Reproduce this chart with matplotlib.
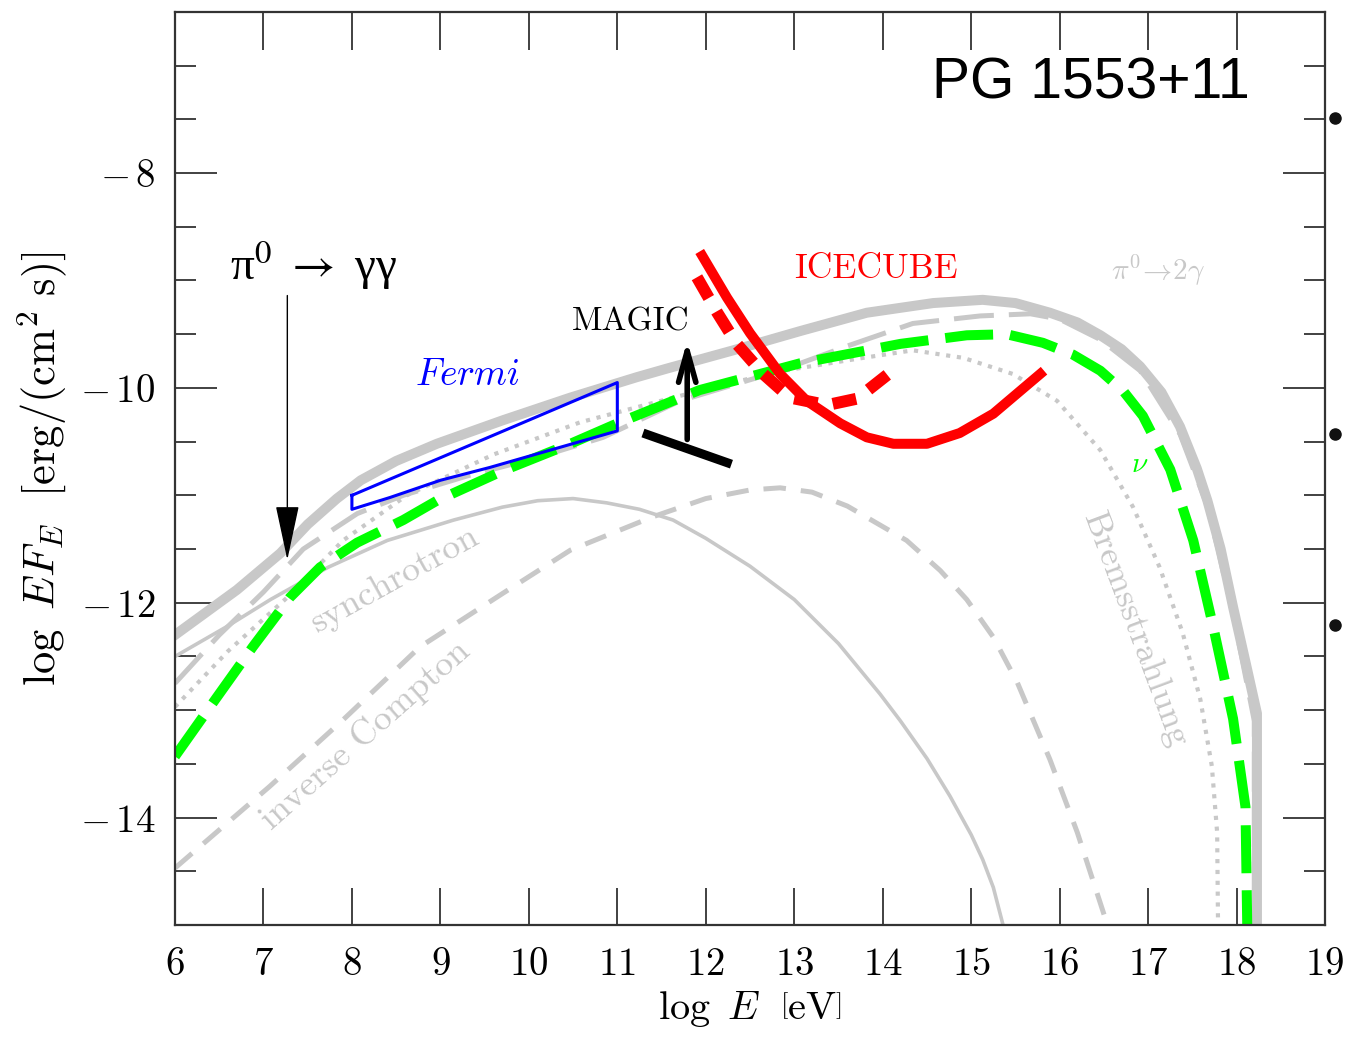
import matplotlib
matplotlib.use("Agg")
import matplotlib.pyplot as plt
from matplotlib.ticker import MultipleLocator, FuncFormatter

plt.rcParams['font.family'] = 'serif'
plt.rcParams['font.serif'] = ['cmr10', 'DejaVu Serif']
plt.rcParams['mathtext.fontset'] = 'cm'
plt.rcParams['axes.unicode_minus'] = False

# model components, log E [eV] vs log E F_E
total_x = [6.0, 6.7, 7.19, 7.5, 7.83, 8.1, 8.5, 8.96, 9.71, 10.47, 11.22, 11.56, 12.31, 13.07, 13.82,
           14.57, 15.13, 15.5, 15.89, 16.2, 16.46, 16.7, 16.91, 17.15, 17.36, 17.55, 17.67, 17.82,
           17.96, 18.1, 18.23, 18.23]
total_y = [-12.3, -11.88, -11.54, -11.27, -11.03, -10.86, -10.68, -10.52, -10.3, -10.09, -9.9, -9.82, -9.65,
           -9.47, -9.3, -9.21, -9.18, -9.21, -9.3, -9.39, -9.51, -9.64, -9.8, -10.04, -10.36, -10.75,
           -11.05, -11.5, -12.04, -12.55, -13.03, -15.0]

pi0_x = [6.0, 6.5, 7.0, 7.45, 8.06, 8.58, 9.3, 10.09, 10.84, 11.71, 12.84, 13.6, 14.34, 15.1,
         15.67, 16.0, 16.46, 16.91, 17.36, 17.67, 17.96, 18.2, 18.2]
pi0_y = [-12.75, -12.3, -11.9, -11.5, -11.17, -11.0, -10.82, -10.65, -10.46, -10.12, -9.84, -9.61, -9.4, -9.33,
         -9.31, -9.36, -9.55, -9.84, -10.43, -11.1, -12.1, -13.1, -15.0]

brems_x = [6.0, 6.6, 7.27, 7.9, 8.62, 9.6, 10.58, 11.63, 12.8, 13.78, 14.34, 14.91, 15.47, 15.97, 16.46,
           16.83, 17.13, 17.39, 17.59, 17.72, 17.78, 17.79]
brems_y = [-12.97, -12.45, -11.95, -11.42, -11.0, -10.62, -10.32, -10.09, -9.85, -9.72, -9.65, -9.72, -9.87,
           -10.12, -10.58, -11.11, -11.67, -12.28, -12.9, -13.52, -14.14, -15.0]

sync_x = [6.0, 6.59, 7.08, 7.73, 8.4, 9.15, 9.7, 10.1, 10.5, 10.88, 11.25, 11.63, 12.0, 12.5, 13.0,
          13.5, 13.97, 14.2, 14.5, 14.76, 15.0, 15.13, 15.25, 15.36]
sync_y = [-12.5, -12.22, -11.97, -11.67, -11.42, -11.23, -11.11, -11.05, -11.03, -11.07, -11.13, -11.23,
          -11.4, -11.66, -11.97, -12.38, -12.85, -13.1, -13.45, -13.8, -14.16, -14.39, -14.65, -15.0]

ic_x = [6.0, 7.07, 7.9, 8.77, 9.71, 10.47, 11.4, 12.0, 12.5, 12.84, 13.2, 13.6, 14.27, 14.65, 14.95,
        15.25, 15.52, 15.89, 16.2, 16.54]
ic_y = [-14.47, -13.71, -13.09, -12.41, -11.91, -11.51, -11.2, -11.03, -10.95, -10.93, -10.97, -11.1,
        -11.42, -11.7, -11.97, -12.32, -12.74, -13.46, -14.14, -15.0]

nu_x = [6.0, 6.43, 6.88, 7.3, 7.64, 8.06, 8.58, 8.96, 9.71, 10.47, 11.0, 11.93, 13.07, 14.2, 14.95,
        15.4, 15.81, 16.15, 16.46, 16.72, 16.94, 17.25, 17.51, 17.74, 17.96, 18.1, 18.12]
nu_y = [-13.43, -12.93, -12.41, -11.95, -11.67, -11.44, -11.23, -11.05, -10.77, -10.52, -10.33, -10.02, -9.77,
        -9.59, -9.51, -9.5, -9.58, -9.69, -9.84, -10.03, -10.26, -10.76, -11.42, -12.24, -13.08, -13.9, -15.0]

# IceCube sensitivity curves
ice_x = [11.96, 12.24, 12.5, 12.84, 13.14, 13.52, 13.82, 14.12, 14.5, 14.87, 15.25, 15.78]
ice_y = [-8.77, -9.16, -9.49, -9.87, -10.12, -10.33, -10.46, -10.52, -10.52, -10.42, -10.24, -9.87]
ice2_x = [11.9, 12.13, 12.35, 12.65, 12.95, 13.37, 13.71, 14.08]
ice2_y = [-8.97, -9.3, -9.59, -9.87, -10.09, -10.16, -10.1, -9.86]

# Fermi bow tie
fermi_x = [8.0, 8.0, 8.43, 9.0, 9.56, 11.0, 11.0, 8.0]
fermi_y = [-11.0, -11.13, -11.02, -10.86, -10.74, -10.4, -9.95, -11.0]

# MAGIC upper limit
magic_bar_x = [11.29, 12.29]
magic_bar_y = [-10.42, -10.71]
magic_x = 11.79
magic_y = [-10.48, -9.56]

gray = '#c8c8c8'

fig = plt.figure(figsize=(13.48, 10.39), dpi=100)
ax = fig.add_axes([0.1298, 0.1097, 0.8532, 0.8788])

ax.plot(total_x, total_y, color=gray, lw=7.2, solid_joinstyle='round')
ax.plot(pi0_x, pi0_y, color=gray, lw=3.6, dashes=(8, 3))
ax.plot(brems_x, brems_y, color=gray, lw=3.0, dashes=(1, 1.6))
ax.plot(sync_x, sync_y, color=gray, lw=2.6)
ax.plot(ic_x, ic_y, color=gray, lw=3.6, dashes=(4.5, 3))
ax.plot(nu_x, nu_y, color='#00ff00', lw=7.2, dashes=(4.8, 1.7))

ax.plot(ice2_x, ice2_y, color='red', lw=8.6, dashes=(2.0, 1.3))
ax.plot(ice_x, ice_y, color='red', lw=7.2)

ax.plot(fermi_x, fermi_y, color='blue', lw=2.2)

ax.plot(magic_bar_x, magic_bar_y, color='black', lw=6.5, solid_capstyle='butt')
ax.annotate('', xy=(magic_x, magic_y[1]), xytext=(magic_x, magic_y[0]),
            arrowprops=dict(arrowstyle='->,head_length=0.9,head_width=0.25', lw=4, color='black',
                            shrinkA=0, shrinkB=0, mutation_scale=25))

# pi0 -> gamma gamma marker
ax.annotate('', xy=(7.27, -11.6), xytext=(7.27, -9.14),
            arrowprops=dict(arrowstyle='-|>,head_length=1.4,head_width=0.3', lw=1.0, color='black',
                            shrinkA=0, shrinkB=0, mutation_scale=25))
ax.text(6.62, -8.86, r'π$^0$ $\rightarrow$ γγ', fontsize=34,
        family=['Liberation Serif', 'DejaVu Serif'], math_fontfamily='stix',
        ha='left', va='center')

ax.text(11.15, -9.39, 'MAGIC', fontsize=24, ha='center', va='center', family='cmr10')
ax.text(13.92, -8.89, 'ICECUBE', fontsize=25.5, ha='center', va='center', color='red', family='cmr10')
ax.text(9.3, -9.88, r'$Fermi$', fontsize=27, ha='center', va='center', color='blue')
ax.text(17.11, -8.91, r'$\pi^0\!\rightarrow\!2\gamma$', fontsize=21, ha='center', va='center', color=gray)
ax.text(16.91, -10.72, r'$\nu$', fontsize=21, ha='center', va='center', color='#00ff00')
ax.text(8.49, -11.79, 'synchrotron', fontsize=26, rotation=29, ha='center', va='center',
        rotation_mode='anchor', color=gray, family='cmr10')
ax.text(8.15, -13.23, 'inverse Compton', fontsize=26, rotation=41.5, ha='center', va='center',
        rotation_mode='anchor', color=gray, family='cmr10')
ax.text(16.85, -12.25, 'Bremsstrahlung', fontsize=26, rotation=-69.5, ha='center', va='center',
        rotation_mode='anchor', color=gray, family='cmr10')

ax.text(18.15, -7.17, 'PG 1553+11', fontsize=41, ha='right', va='center',
        family=['Liberation Sans', 'DejaVu Sans'])

# bullets just outside the right frame
ax.plot([19.11, 19.11, 19.11], [-7.49, -10.43, -12.21], 'o', color='#111111', ms=8, clip_on=False)

ax.set_xlim(6, 19)
ax.set_ylim(-15, -6.5)
ax.xaxis.set_major_locator(MultipleLocator(1))
ax.yaxis.set_major_locator(MultipleLocator(2))
ax.yaxis.set_minor_locator(MultipleLocator(0.5))
ax.xaxis.set_major_formatter(FuncFormatter(lambda v, p: r'$%d$' % round(v)))
ax.yaxis.set_major_formatter(FuncFormatter(lambda v, p: r'$-\,%d$' % round(-v)))
ax.tick_params(which='both', direction='in', top=True, right=True, color='#333333', width=1.3,
               labelsize=28)
ax.tick_params(axis='x', which='major', length=27, pad=16)
ax.tick_params(axis='y', which='major', length=30, pad=14)
ax.tick_params(axis='y', which='minor', length=15)
for s in ax.spines.values():
    s.set_color('#333333')
    s.set_linewidth(1.6)

ax.set_xlabel(r'$\log\ E\ \ \left[\mathrm{eV}\right]$', fontsize=29, labelpad=4)
ax.set_ylabel(r'$\log\ EF_E\ \ [\mathrm{erg}/(\mathrm{cm}^2\ \mathrm{s})]$', fontsize=32, labelpad=8)

fig.savefig('out.png', dpi=100)
